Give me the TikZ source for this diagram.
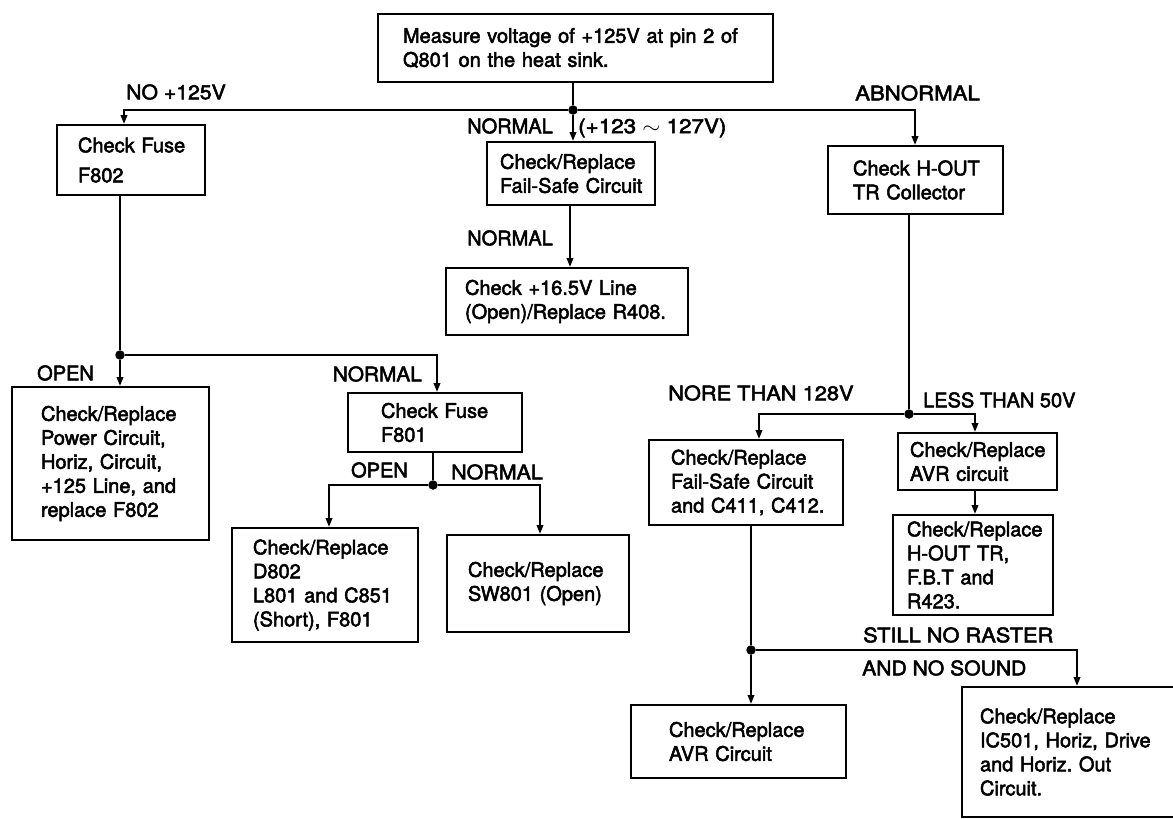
\documentclass[tikz,border=0pt]{standalone}
\usepackage{fontspec}
\setmainfont{TeX Gyre Heros}[FakeBold=2.5]
\usetikzlibrary{arrows.meta}
\newcommand\myNoHyph{\hyphenpenalty=10000 \exhyphenpenalty=10000 \hbadness=10000 \hfuzz=50pt\relax}
\newcommand\myWide[2]{\scalebox{#1}[1]{#2}}
\begin{document}
\begin{tikzpicture}[x=1pt,y=-1pt,
  txt/.style={font=\fontsize{20}{24}\selectfont, execute at begin node=\myNoHyph},
  box/.style={txt, draw, line width=2pt, align=left, inner ysep=2pt},
  lbl/.style={txt, inner sep=0pt},
  conn/.style={line width=2pt},
  arr/.style={conn, -{Triangle[length=9pt,width=6.5pt]}},
  dot/.style={circle, fill, inner sep=0pt, minimum size=9.5pt}]
\useasboundingbox (0,0) rectangle (1173,819);
\clip (0,0) rectangle (1173,819);

% boxes
\node[box, minimum width=395pt, minimum height=68pt, text width=345pt, inner xsep=25pt] (T) at (575.5,48) {Measure~voltage~of~+125V~at~pin~2~of\\Q801~on~the~heat~sink.};
\node[box, minimum width=148pt, minimum height=70pt, text width=106pt, inner xsep=21pt] (F802) at (131,160) {Check~Fuse\\[6pt]F802};
\node[box, minimum width=168pt, minimum height=63pt, text width=142pt, inner xsep=13pt] (FS1) at (571,173.5) {Check/Replace\\Fail-Safe~Circuit};
\node[box, minimum width=242pt, minimum height=67pt, text width=204pt, inner xsep=19pt] (R408) at (567,301.5) {Check~+16.5V~Line\\(Open)/Replace~R408.};
\node[box, minimum width=175pt, minimum height=68pt, text width=125pt, inner xsep=25pt] (HOUT) at (915.5,180) {Check~H-OUT\\TR~Collector};
\node[box, minimum width=197pt, minimum height=153pt, text width=139pt, inner xsep=29pt] (Power) at (110.5,463.5) {Check/Replace\\Power~Circuit,\\Horiz,~Circuit,\\+125~Line,~and\\replace~F802};
\node[box, minimum width=174pt, minimum height=59pt, text width=108pt, inner xsep=33pt] (F801) at (435,422.5) {Check~Fuse\\F801};
\node[box, minimum width=186pt, minimum height=114pt, text width=144pt, inner xsep=21pt] (D802) at (325,585) {Check/Replace\\D802\\L801~and~C851\\(Short),~F801};
\node[box, minimum width=182pt, minimum height=97pt, text width=140pt, inner xsep=21pt] (SW801) at (538,583.5) {Check/Replace\\SW801~(Open)};
\node[box, minimum width=194pt, minimum height=85pt, text width=150pt, inner xsep=22pt] (FS2) at (746,482.5) {Check/Replace\\Fail-Safe~Circuit\\and~C411,~C412.};
\node[box, minimum width=159pt, minimum height=57pt, text width=135pt, inner xsep=12pt] (AVR1) at (977.5,461.5) {Check/Replace\\AVR~circuit};
\node[box, minimum width=160pt, minimum height=100pt, text width=132pt, inner xsep=14pt] (HOUT2) at (973,565) {Check/Replace\\H-OUT~TR,\\F.B.T~and\\R423.};
\node[box, minimum width=215pt, minimum height=73pt, text width=139pt, inner xsep=38pt] (AVR2) at (738.5,741.5) {Check/Replace\\AVR~Circuit};
\node[box, minimum width=228pt, minimum height=130pt, text width=192pt, inner xsep=18pt] (IC501) at (1076,752) {Check/Replace\\IC501,~Horiz,~Drive\\and~Horiz.~Out\\Circuit.};

% junctions
\node[dot] (J1) at (573,110) {};
\node[dot] (J2) at (120,355) {};
\node[dot] (J3) at (433,485) {};
\node[dot] (J4) at (909,414) {};
\node[dot] (J5) at (751,650) {};

% x positions of connector legs
\coordinate (c1) at (124,0);
\coordinate (c3) at (437,0);
\coordinate (c5) at (329,0);
\coordinate (c6) at (540,0);
\coordinate (c7) at (915,0);
\coordinate (c9) at (759,0);
\coordinate (c10) at (975,0);
\coordinate (c12) at (1077,0);
\coordinate (c13) at (570,0);

% connectors
\draw[conn] (T.south -| J1) -- (J1);
\draw[arr] (J1) -| (c1 |- F802.north);
\draw[arr] (J1) -- (J1 |- FS1.north);
\draw[arr] (J1) -| (c7 |- HOUT.north);
\draw[arr] (c13 |- FS1.south) -- (c13 |- R408.north);
\draw[conn] (J2 |- F802.south) -- (J2);
\draw[arr] (J2) -- (J2 |- Power.north);
\draw[arr] (J2) -| (c3 |- F801.north);
\draw[conn] (J3 |- F801.south) -- (J3);
\draw[arr] (J3) -| (c5 |- D802.north);
\draw[arr] (J3) -| (c6 |- SW801.north);
\draw[conn] (J4 |- HOUT.south) -- (J4);
\draw[arr] (J4) -| (c9 |- FS2.north);
\draw[arr] (J4) -| (c10 |- AVR1.north);
\draw[arr] (c10 |- AVR1.south) -- (c10 |- HOUT2.north);
\draw[conn] (J5 |- FS2.south) -- (J5);
\draw[arr] (J5) -- (J5 |- AVR2.north);
\draw[arr] (J5) -| (c12 |- IC501.north);

% labels
\node[lbl, anchor=west] (l1) at (126,92) {\myWide{1.06}{NO +125V}};
\node[lbl, anchor=east] (l2) at (553,126) {NORMAL};
\node[lbl, anchor=west] (l3) at (578,128) {\myWide{1.12}{(+123 $\sim$ 127V)}};
\node[lbl, anchor=east] (l4) at (553,238) {NORMAL};
\node[lbl, anchor=west] (l5) at (855,93) {\myWide{1.11}{ABNORMAL}};
\node[lbl, anchor=west] (l6) at (37,373) {OPEN};
\node[lbl, anchor=east] (l7) at (422,374) {\myWide{1.04}{NORMAL}};
\node[lbl, anchor=east] (l8) at (408,470) {OPEN};
\node[lbl, anchor=west] (l9) at (451,472) {\myWide{1.07}{NORMAL}};
\node[lbl, anchor=west] (l10) at (668,393) {\myWide{1.09}{NORE THAN 128V}};
\node[lbl, anchor=west] (l11) at (923,400) {LESS THAN 50V};
\node[lbl, anchor=west] (l12) at (863,635) {\myWide{1.09}{STILL NO RASTER}};
\node[lbl, anchor=west] (l13) at (862,668) {\myWide{1.055}{AND NO SOUND}};
\end{tikzpicture}
\end{document}
